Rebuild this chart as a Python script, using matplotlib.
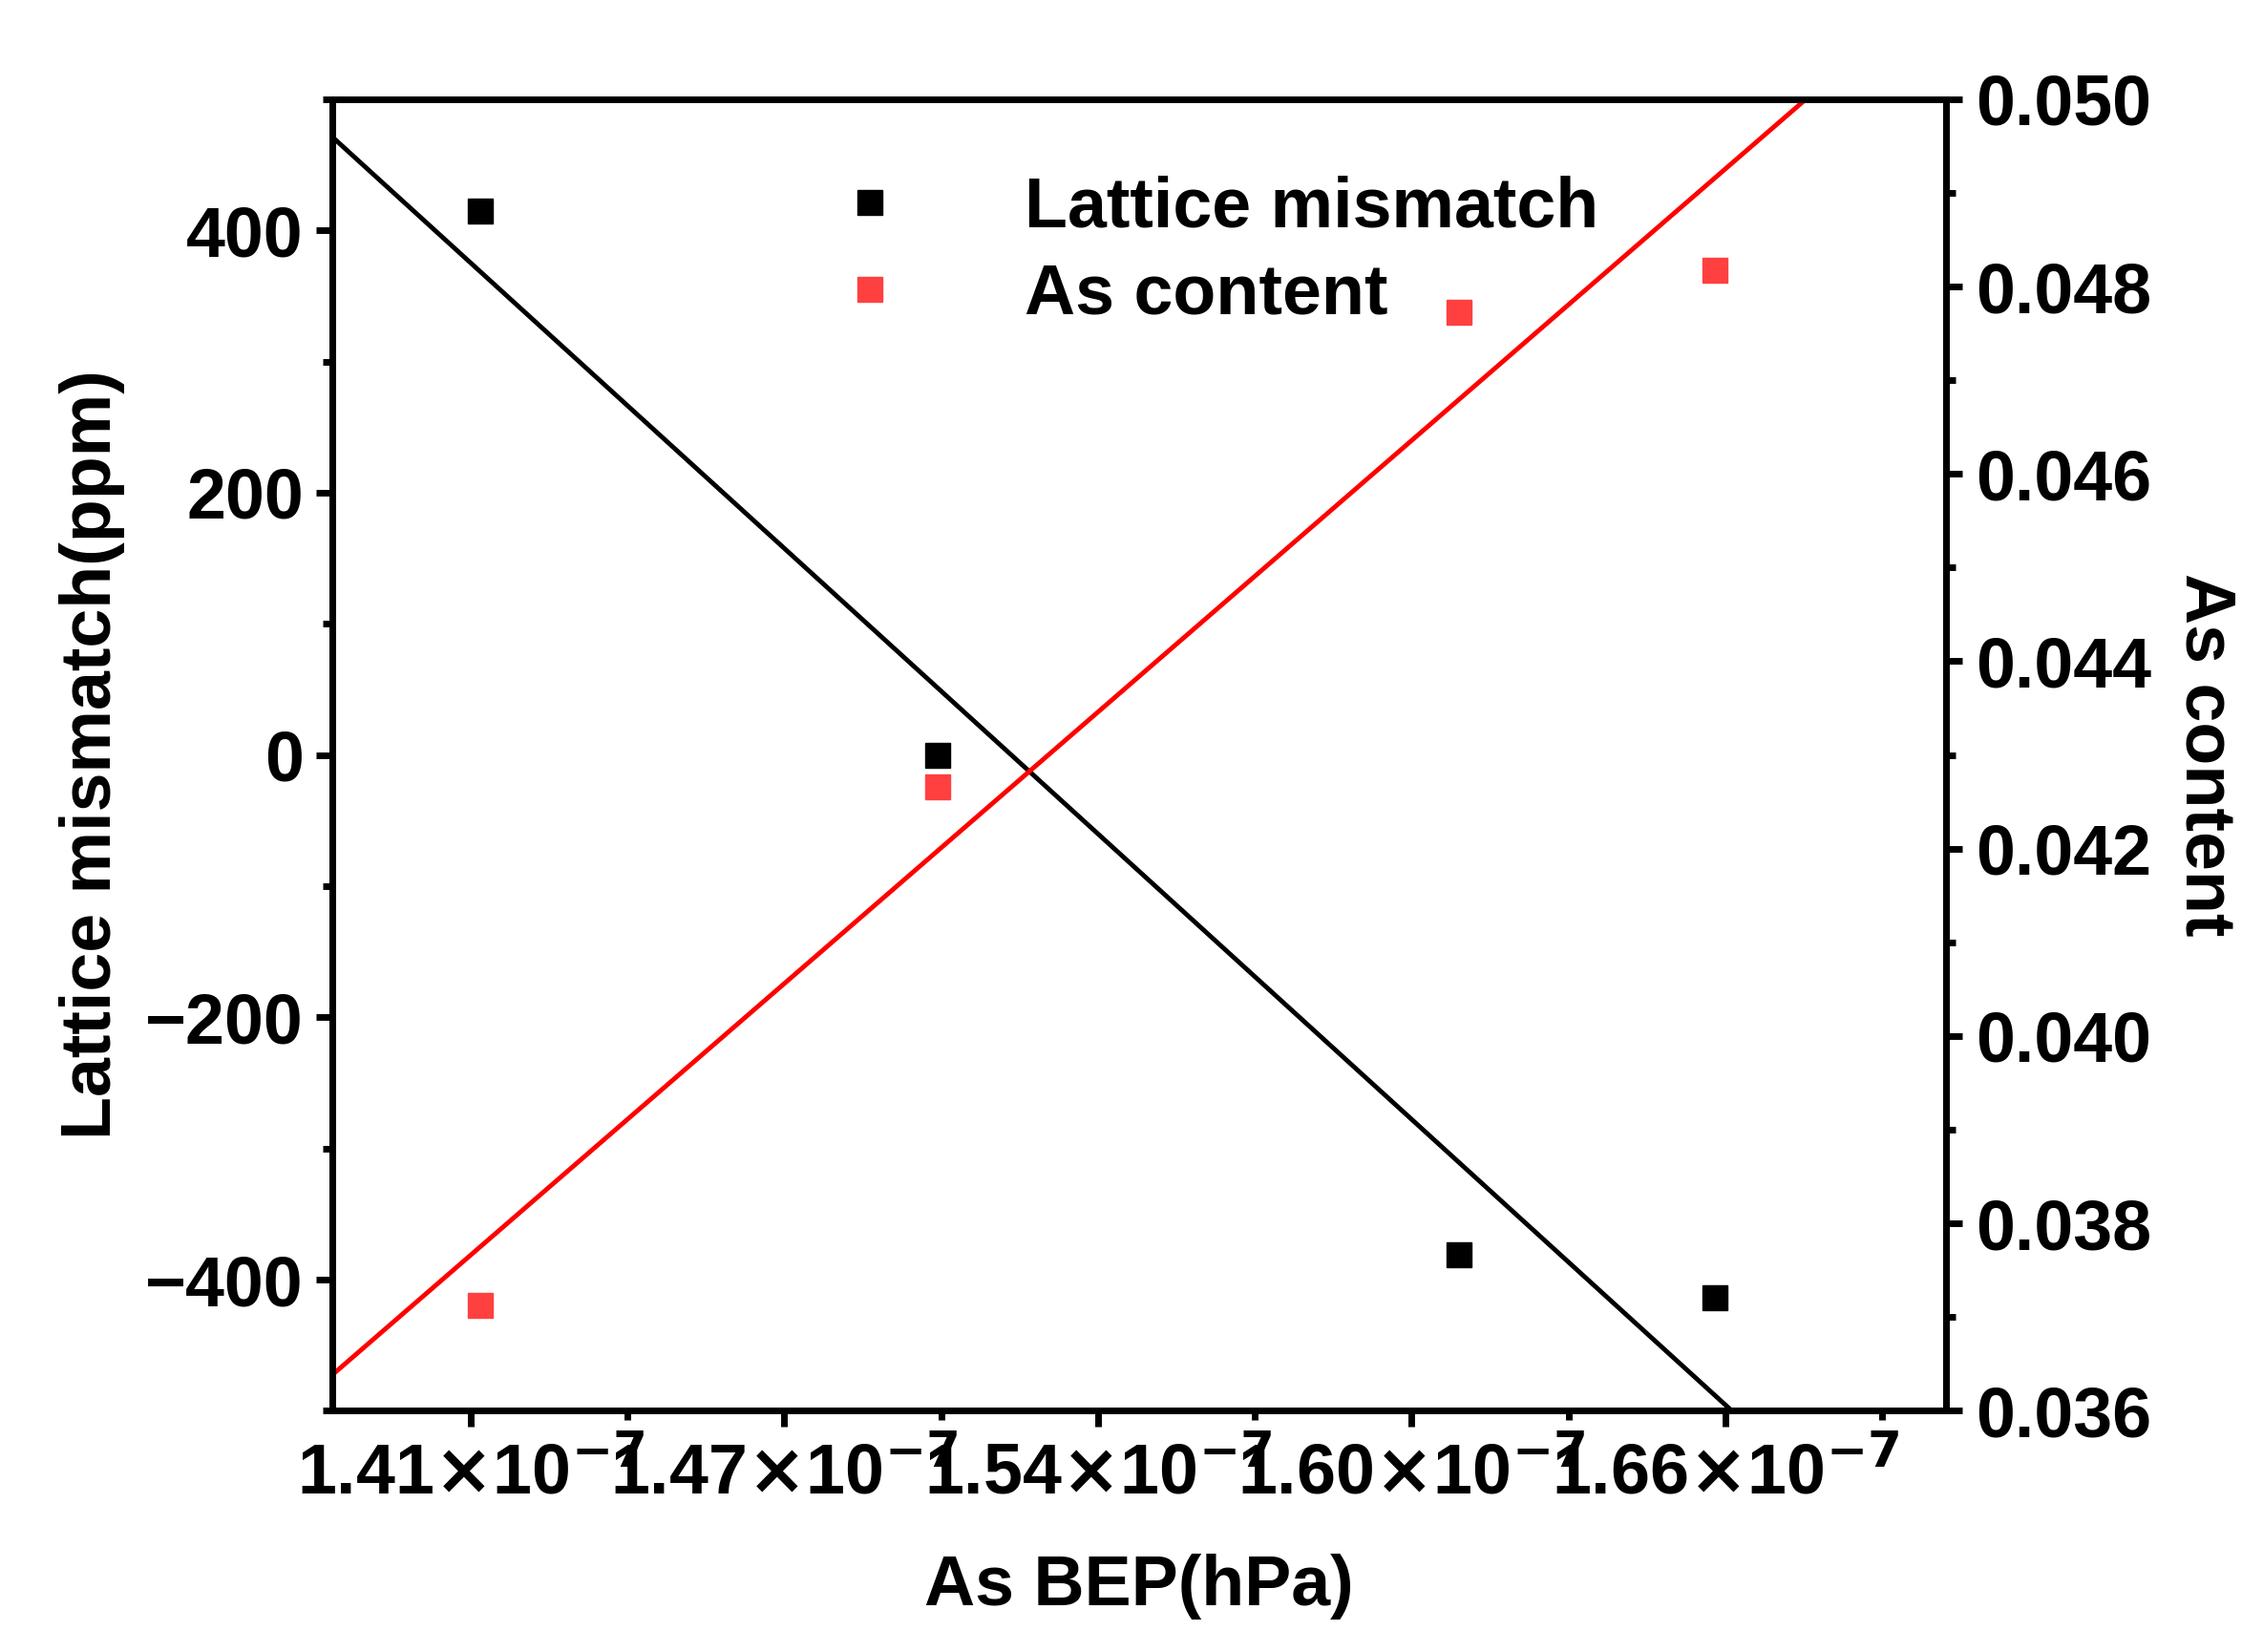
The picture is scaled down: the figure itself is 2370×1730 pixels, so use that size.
import matplotlib
matplotlib.use("Agg")
import matplotlib.pyplot as plt
import numpy as np
from matplotlib.ticker import MultipleLocator, AutoMinorLocator

plt.rcParams['font.family'] = ['Liberation Sans', 'DejaVu Sans']
plt.rcParams['font.weight'] = 'bold'
plt.rcParams['mathtext.default'] = 'bf'

bep = [1.412, 1.503, 1.607, 1.658]          # x1e-7 hPa
mismatch = [415, 0, -381, -414]              # ppm
as_content = [0.03713, 0.04266, 0.04773, 0.04817]
xticks = [1.41, 1.4725, 1.535, 1.5975, 1.66]
xticklabels = [r"1.41$\times$10$^{-7}$", r"1.47$\times$10$^{-7}$", r"1.54$\times$10$^{-7}$",
               r"1.60$\times$10$^{-7}$", r"1.66$\times$10$^{-7}$"]

fig = plt.figure(figsize=(23.7, 17.3), dpi=100)
ax = fig.add_axes([0.147, 0.146, 0.713, 0.794])
ax2 = ax.twinx()
xlim = (1.3825, 1.704)

fs = 53
lw = 5
for a in (ax, ax2):
    for s in a.spines.values():
        s.set_linewidth(lw)
ax.plot(bep, mismatch, 's', color='black', ms=19, zorder=3)
ax2.plot(bep, as_content, 's', color='#ff4040', ms=19, zorder=3)
xx = np.array(xlim)
p1 = np.polyfit(bep, mismatch, 1)
p2 = np.polyfit(bep, as_content, 1)
ax.plot(xx, np.polyval(p1, xx), color='black', lw=3.5)
ax2.plot(xx, np.polyval(p2, xx), color='red', lw=3.5)

ax.set_xlim(*xlim)
ax.set_ylim(-500, 500)
ax2.set_ylim(0.036, 0.050)
ax.set_xticks(xticks)
ax.set_xticklabels(xticklabels)
ax.xaxis.set_minor_locator(AutoMinorLocator(2))
ax.yaxis.set_major_locator(MultipleLocator(200))
ax.yaxis.set_minor_locator(MultipleLocator(100))
ax2.yaxis.set_major_locator(MultipleLocator(0.002))
ax2.yaxis.set_minor_locator(MultipleLocator(0.001))
ax2.yaxis.set_major_formatter(plt.FormatStrFormatter('%.3f'))
for a in (ax, ax2):
    a.tick_params(which='major', length=12, width=lw, labelsize=fs, pad=10)
    a.tick_params(which='minor', length=7, width=lw)
ax.set_xlabel("As BEP(hPa)", fontsize=fs, fontweight='bold', labelpad=35)
ax.set_ylabel("Lattice mismatch(ppm)", fontsize=fs, fontweight='bold', labelpad=15)
ax2.set_ylabel("As content", fontsize=fs, fontweight='bold', rotation=270, labelpad=65)

h1 = plt.Line2D([], [], marker='s', ls='none', color='black', ms=19)
h2 = plt.Line2D([], [], marker='s', ls='none', color='#ff4040', ms=19)
ax.legend([h1, h2], ["Lattice mismatch", "As content"], loc='upper left',
          bbox_to_anchor=(0.25, 0.99), frameon=False, fontsize=fs,
          handletextpad=1.2, labelspacing=0.3)
fig.savefig("out.png", dpi=100)
